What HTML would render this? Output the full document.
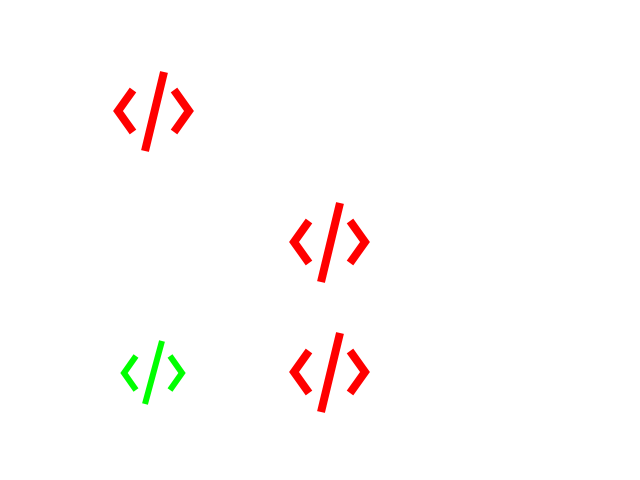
<!DOCTYPE html>
<html><head><style>html,body{margin:0;padding:0;background:#fff;width:640px;height:480px;overflow:hidden}</style></head>
<body>
<svg width="640" height="480" xmlns="http://www.w3.org/2000/svg">
<g fill="none" stroke="#ff0000" stroke-width="8" stroke-linecap="butt" stroke-linejoin="miter">
  <g>
    <polyline points="133,90 118,111 133,132"/>
    <polyline points="174,90 189,111 174,132"/>
    <line x1="164" y1="72" x2="145" y2="151"/>
  </g>
  <g transform="translate(176,131)">
    <polyline points="133,90 118,111 133,132"/>
    <polyline points="174,90 189,111 174,132"/>
    <line x1="164" y1="72" x2="145" y2="151"/>
  </g>
  <g transform="translate(176,261)">
    <polyline points="133,90 118,111 133,132"/>
    <polyline points="174,90 189,111 174,132"/>
    <line x1="164" y1="72" x2="145" y2="151"/>
  </g>
</g>
<g fill="none" stroke="#00ff00" stroke-width="6">
  <polyline points="136,356 124,373 136,390"/>
  <polyline points="170,356 182,373 170,390"/>
  <line x1="162" y1="341" x2="145" y2="404"/>
</g>
</svg>
</body></html>
